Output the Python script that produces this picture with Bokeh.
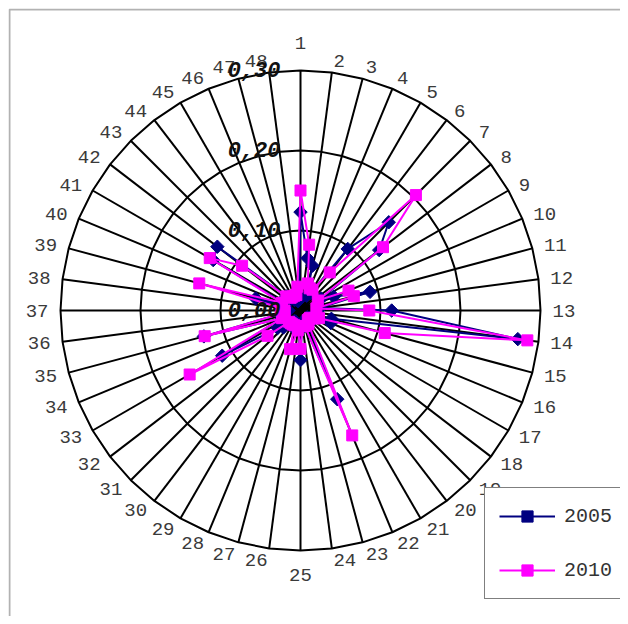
import numpy as np
from bokeh.plotting import figure
from bokeh.models import ColumnDataSource, Range1d, Legend, LegendItem, BoxAnnotation
from bokeh.core.properties import value
from bokeh.embed import file_html
from bokeh.resources import INLINE

# ---------------- data ----------------
categories = ["1", "2", "3", "4", "5", "6", "7", "8", "9", "10", "11", "12",
              "13", "14", "15", "16", "17", "18", "19", "20", "21", "22", "23", "24",
              "25", "26", "27", "28", "29", "30", "31", "32", "33", "34", "35", "36",
              "37", "38", "39", "40", "41", "42", "43", "44", "45", "46", "47", "48"]

s2005 = [0.123, 0.066, 0.058, 0.020, 0.025, 0.097, 0.156, 0.124, 0.030, 0.045, 0.090, 0.025,
         0.114, 0.274, 0.040, 0.041, 0.020, 0.015, 0.012, 0.012, 0.015, 0.120, 0.020, 0.015,
         0.062, 0.020, 0.025, 0.015, 0.015, 0.020, 0.030, 0.036, 0.113, 0.025, 0.125, 0.020,
         0.015, 0.020, 0.058, 0.020, 0.126, 0.131, 0.025, 0.020, 0.015, 0.015, 0.012, 0.015]

s2010 = [0.150, 0.083, 0.035, 0.030, 0.030, 0.060, 0.204, 0.130, 0.025, 0.065, 0.069, 0.020,
         0.086, 0.286, 0.109, 0.025, 0.020, 0.015, 0.015, 0.015, 0.020, 0.169, 0.020, 0.020,
         0.048, 0.025, 0.050, 0.020, 0.020, 0.020, 0.020, 0.052, 0.160, 0.025, 0.124, 0.020,
         0.020, 0.025, 0.131, 0.025, 0.131, 0.092, 0.025, 0.020, 0.020, 0.020, 0.020, 0.030]

ring_values = [0.10, 0.20, 0.30]
tick_values = [0.00, 0.10, 0.20, 0.30]
tick_labels = ["0,00", "0,10", "0,20", "0,30"]
series_names = ["2005", "2010"]

# ---------------- geometry ----------------
W, H = 620, 616
ML, MT = 8, 8              # white space before the chart frame
FW, FH = W - ML, H - MT    # frame size
CX, CY = 292, 302          # centre, frame pixels
SCALE = 800.0              # pixels per value unit
r_max = max(ring_values)

n = len(categories)
theta = np.arange(n) * 2 * np.pi / n
sin_t, cos_t = np.sin(theta), np.cos(theta)

x0r, x1r = -CX / SCALE, (FW - CX) / SCALE
y0r, y1r = -(FH - CY) / SCALE, CY / SCALE

p = figure(width=W, height=H, output_backend="svg", toolbar_location=None,
           x_range=Range1d(x0r, x1r), y_range=Range1d(y0r, y1r),
           x_axis_type=None, y_axis_type=None,
           min_border_left=ML, min_border_top=MT,
           min_border_right=0, min_border_bottom=0)
p.outline_line_color = None
p.background_fill_color = "white"
p.border_fill_color = "white"

# chart-area border (left and top edges; the others fall outside the picture)
px1 = 1.0 / SCALE
p.add_layout(BoxAnnotation(left=x0r + px1, top=y1r - px1, right=x1r + 0.05,
                           bottom=y0r - 0.05, fill_color=None, fill_alpha=0,
                           line_color="black", line_width=2, level="underlay"))

# rings (48-gons)
ring_xs, ring_ys = [], []
for rv in ring_values:
    ring_xs.append(list(rv * sin_t) + [rv * sin_t[0]])
    ring_ys.append(list(rv * cos_t) + [rv * cos_t[0]])
p.multi_line(ring_xs, ring_ys, line_color="black", line_width=2)

# spokes
p.segment(x0=np.zeros(n), y0=np.zeros(n), x1=r_max * sin_t, y1=r_max * cos_t,
          line_color="black", line_width=2)

# series
def closed(vals):
    v = np.array(vals)
    x = v * sin_t
    y = v * cos_t
    return np.append(x, x[0]), np.append(y, y[0]), x, y

lx, ly, px, py = closed(s2005)
l1 = p.line(lx, ly, line_color="#000080", line_width=2)
m1 = p.scatter(px, py, marker="square", angle=np.pi / 4, size=9.5,
               fill_color="#000080", line_color="#000080")

lx, ly, px, py = closed(s2010)
l2 = p.line(lx, ly, line_color="#FF00FF", line_width=2)
m2 = p.scatter(px, py, marker="square", size=11,
               fill_color="#FF00FF", line_color="#FF00FF")

# category labels
lab_r, lab_align, lab_base = [], [], []
for i in range(n):
    s = sin_t[i]
    if i == 0:
        lab_r.append(0.3275); lab_align.append("center"); lab_base.append("bottom")
    elif i == n // 2:
        lab_r.append(0.323); lab_align.append("center"); lab_base.append("top")
    else:
        lab_r.append(0.315)
        lab_align.append("left" if s > 0 else "right")
        lab_base.append("middle")
lab_r = np.array(lab_r)
cat_src = ColumnDataSource(dict(x=lab_r * sin_t, y=lab_r * cos_t, text=categories,
                                align=lab_align, base=lab_base))
p.text(x="x", y="y", text="text", source=cat_src, text_align="align",
       text_baseline="base", text_font=value("Liberation Mono"),
       text_font_size="19px", text_color="#3a3a3a")

# value-axis labels
p.text(x=[0] * len(tick_values), y=tick_values, text=tick_labels,
       x_offset=-20, y_offset=-1, text_align="right", text_baseline="middle",
       text_font=value("Liberation Mono"), text_font_style="bold italic",
       text_font_size="22px", text_color="#111111")

# legend
legend = Legend(items=[LegendItem(label=series_names[0], renderers=[l1, m1]),
                       LegendItem(label=series_names[1], renderers=[l2, m2])],
                location=(476, 17), orientation="vertical",
                padding=14, spacing=26, margin=0,
                glyph_width=56, glyph_height=28, label_height=28,
                label_standoff=9, label_text_font="Liberation Mono",
                label_text_font_size="20px", label_text_color="#333333",
                border_line_color="black", border_line_width=1.5,
                background_fill_color="white", background_fill_alpha=1.0)
p.add_layout(legend)

open("out.html", "w").write(file_html(p, INLINE))
